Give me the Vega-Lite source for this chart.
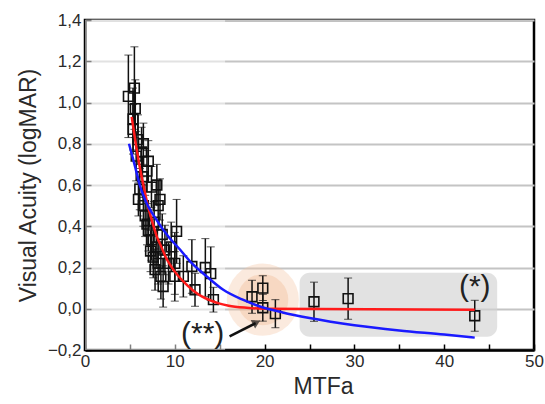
{
  "$schema": "https://vega.github.io/schema/vega-lite/v6.json",
  "autosize": "none",
  "padding": {"left": 85, "top": 20, "right": 11, "bottom": 54},
  "width": 449,
  "height": 330,
  "background": "white",
  "config": {
    "font": "Liberation Sans",
    "view": {"stroke": "black", "strokeWidth": 2.5},
    "axis": {
      "domainColor": "black",
      "domainWidth": 2.5,
      "tickColor": "black",
      "tickWidth": 1.5,
      "tickSize": -6,
      "labelColor": "#2a2a2a",
      "titleColor": "#2a2a2a",
      "labelFont": "Liberation Sans",
      "titleFont": "Liberation Sans",
      "labelFontSize": 17,
      "titleFontSize": 23,
      "titleFontWeight": "normal"
    }
  },
  "datasets": {
    "pts": [
      {"x": 4.83, "y": 1.03, "e": 0.2},
      {"x": 5.5, "y": 1.07, "e": 0.2},
      {"x": 5.35, "y": 0.92, "e": 0.15},
      {"x": 5.35, "y": 0.87, "e": 0.12},
      {"x": 5.6, "y": 0.97, "e": 0.14},
      {"x": 5.9, "y": 0.82, "e": 0.12},
      {"x": 5.7, "y": 0.74, "e": 0.12},
      {"x": 6.5, "y": 0.8, "e": 0.1},
      {"x": 6.3, "y": 0.76, "e": 0.12},
      {"x": 7.05, "y": 0.715, "e": 0.1},
      {"x": 6.9, "y": 0.667, "e": 0.1},
      {"x": 6.4, "y": 0.64, "e": 0.1},
      {"x": 7.4, "y": 0.59, "e": 0.1},
      {"x": 8.0, "y": 0.6, "e": 0.1},
      {"x": 8.35, "y": 0.53, "e": 0.1},
      {"x": 6.1, "y": 0.58, "e": 0.1},
      {"x": 5.95, "y": 0.53, "e": 0.08},
      {"x": 6.5, "y": 0.5, "e": 0.1},
      {"x": 6.7, "y": 0.45, "e": 0.1},
      {"x": 6.9, "y": 0.41, "e": 0.1},
      {"x": 7.05, "y": 0.38, "e": 0.1},
      {"x": 7.4, "y": 0.335, "e": 0.1},
      {"x": 7.7, "y": 0.42, "e": 0.1},
      {"x": 8.15, "y": 0.5, "e": 0.12},
      {"x": 8.0, "y": 0.3, "e": 0.1},
      {"x": 7.3, "y": 0.28, "e": 0.1},
      {"x": 7.6, "y": 0.25, "e": 0.1},
      {"x": 7.8, "y": 0.19, "e": 0.1},
      {"x": 8.15, "y": 0.22, "e": 0.1},
      {"x": 8.9, "y": 0.285, "e": 0.12},
      {"x": 8.6, "y": 0.36, "e": 0.1},
      {"x": 10.2, "y": 0.375, "e": 0.155},
      {"x": 10.0, "y": 0.22, "e": 0.15},
      {"x": 10.0, "y": 0.157, "e": 0.12},
      {"x": 8.45, "y": 0.157, "e": 0.11},
      {"x": 8.7, "y": 0.108, "e": 0.1},
      {"x": 9.3, "y": 0.22, "e": 0.1},
      {"x": 9.6, "y": 0.3, "e": 0.12},
      {"x": 10.95, "y": 0.157, "e": 0.1},
      {"x": 11.9, "y": 0.205, "e": 0.13},
      {"x": 12.25, "y": 0.092, "e": 0.08},
      {"x": 13.4, "y": 0.2, "e": 0.14},
      {"x": 14.0, "y": 0.17, "e": 0.13},
      {"x": 14.3, "y": 0.044, "e": 0.06},
      {"x": 18.6, "y": 0.058, "e": 0.08},
      {"x": 19.8, "y": 0.1, "e": 0.06},
      {"x": 19.8, "y": 0.005, "e": 0.065},
      {"x": 21.2, "y": -0.024, "e": 0.068},
      {"x": 25.5, "y": 0.034, "e": 0.095},
      {"x": 29.3, "y": 0.049, "e": 0.1},
      {"x": 43.4, "y": -0.034, "e": 0.075}
    ],
    "red": [
      {"x": 5.2, "y": 0.93},
      {"x": 6.0, "y": 0.71},
      {"x": 6.5, "y": 0.6},
      {"x": 7.0, "y": 0.5},
      {"x": 7.5, "y": 0.42},
      {"x": 8.0, "y": 0.35},
      {"x": 8.5, "y": 0.3},
      {"x": 9.0, "y": 0.25},
      {"x": 10.0, "y": 0.18},
      {"x": 11.0, "y": 0.13},
      {"x": 12.0, "y": 0.09},
      {"x": 13.0, "y": 0.06},
      {"x": 14.0, "y": 0.04},
      {"x": 15.0, "y": 0.025},
      {"x": 16.0, "y": 0.015},
      {"x": 18.0, "y": 0.005},
      {"x": 20.0, "y": 0.0},
      {"x": 43.4, "y": -0.005}
    ],
    "blue": [
      {"x": 4.9, "y": 0.8},
      {"x": 5.57, "y": 0.69},
      {"x": 6.1, "y": 0.6},
      {"x": 6.68, "y": 0.53},
      {"x": 7.98, "y": 0.43},
      {"x": 9.28, "y": 0.35},
      {"x": 10.6, "y": 0.286},
      {"x": 11.7, "y": 0.23},
      {"x": 13.55, "y": 0.157},
      {"x": 15.4, "y": 0.092},
      {"x": 17.5, "y": 0.045},
      {"x": 19.5, "y": 0.011},
      {"x": 22.0, "y": -0.018},
      {"x": 25.0, "y": -0.045},
      {"x": 30.0, "y": -0.08},
      {"x": 35.0, "y": -0.105},
      {"x": 40.0, "y": -0.125},
      {"x": 43.4, "y": -0.14}
    ]
  },
  "layer": [
    {
      "data": {"values": [{}]},
      "mark": {"type": "rect", "fill": "white", "opacity": 0.5},
      "encoding": {
        "x": {
          "datum": 0, "type": "quantitative", "title": "MTFa",
          "scale": {"domain": [0, 50], "nice": false},
          "axis": {
            "title": "MTFa",
            "values": [0, 5, 10, 15, 20, 25, 30, 35, 40, 45, 50],
            "labelExpr": "datum.value % 10 == 0 ? format(datum.value, 'd') : ''",
            "grid": false,
            "labelPadding": 9,
            "titleBaseline": "middle",
            "titleY": 36,
            "titleX": 238,
            "labelFlush": false
          }
        },
        "x2": {"datum": 15.6},
        "y": {
          "datum": -0.2, "type": "quantitative", "title": "Visual Acuity (logMAR)",
          "scale": {"domain": [-0.2, 1.4], "nice": false},
          "axis": {
            "title": "Visual Acuity (logMAR)",
            "values": [-0.2, -0.1, 0, 0.1, 0.2, 0.3, 0.4, 0.5, 0.6, 0.7, 0.8, 0.9, 1.0, 1.1, 1.2, 1.3, 1.4],
            "labelExpr": "abs(round(datum.value * 10)) % 2 == 0 ? replace(format(datum.value, '.1f'), '.', ',') : ''",
            "grid": true,
            "gridColor": "#c4c4c4",
            "gridWidth": 2,
            "labelPadding": 10,
            "titleBaseline": "middle",
            "titleX": -57,
            "titleY": 165,
            "labelFlush": false
          }
        },
        "y2": {"datum": 1.4}
      }
    },
    {
      "data": {"values": [{}]},
      "mark": {"type": "rect", "fill": "#d2d2d2", "opacity": 0.65, "cornerRadius": 10},
      "encoding": {
        "x": {"datum": 23.9, "type": "quantitative", "title": "MTFa"},
        "x2": {"datum": 45.9},
        "y": {"datum": -0.136, "type": "quantitative", "title": "Visual Acuity (logMAR)"},
        "y2": {"datum": 0.175}
      }
    },
    {
      "data": {"values": [{}]},
      "mark": {"type": "point", "shape": "circle", "filled": true, "fill": "#f3c4a0", "opacity": 0.35, "size": 5200, "strokeWidth": 0},
      "encoding": {
        "x": {"datum": 19.8, "type": "quantitative", "title": "MTFa"},
        "y": {"datum": 0.044, "type": "quantitative", "title": "Visual Acuity (logMAR)"}
      }
    },
    {
      "data": {"values": [{}]},
      "mark": {"type": "point", "shape": "circle", "filled": true, "fill": "#f0b890", "opacity": 0.35, "size": 2600, "strokeWidth": 0},
      "encoding": {
        "x": {"datum": 19.8, "type": "quantitative", "title": "MTFa"},
        "y": {"datum": 0.044, "type": "quantitative", "title": "Visual Acuity (logMAR)"}
      }
    },
    {
      "data": {"name": "pts"},
      "mark": {"type": "errorbar", "ticks": {"size": 8, "color": "#111", "strokeWidth": 1.5}, "rule": {"color": "#111", "strokeWidth": 1.5}},
      "encoding": {
        "x": {"field": "x", "type": "quantitative", "title": "MTFa"},
        "y": {"field": "y", "type": "quantitative", "title": "Visual Acuity (logMAR)"},
        "yError": {"field": "e"}
      }
    },
    {
      "data": {"name": "pts"},
      "mark": {"type": "point", "shape": "square", "filled": false, "stroke": "#111", "strokeWidth": 1.6, "size": 95, "opacity": 1},
      "encoding": {
        "x": {"field": "x", "type": "quantitative", "title": "MTFa"},
        "y": {"field": "y", "type": "quantitative", "title": "Visual Acuity (logMAR)"}
      }
    },
    {
      "data": {"name": "red"},
      "mark": {"type": "line", "color": "#ff1a1a", "strokeWidth": 2.5, "interpolate": "monotone"},
      "encoding": {
        "x": {"field": "x", "type": "quantitative", "title": "MTFa"},
        "y": {"field": "y", "type": "quantitative", "title": "Visual Acuity (logMAR)"}
      }
    },
    {
      "data": {"name": "blue"},
      "mark": {"type": "line", "color": "#1a1aff", "strokeWidth": 2.5, "interpolate": "monotone"},
      "encoding": {
        "x": {"field": "x", "type": "quantitative", "title": "MTFa"},
        "y": {"field": "y", "type": "quantitative", "title": "Visual Acuity (logMAR)"}
      }
    },
    {
      "data": {"values": [{}]},
      "mark": {"type": "rule", "color": "#111", "strokeWidth": 2.5},
      "encoding": {
        "x": {"datum": 16.1, "type": "quantitative", "title": "MTFa"},
        "y": {"datum": -0.134, "type": "quantitative", "title": "Visual Acuity (logMAR)"},
        "x2": {"datum": 19.0},
        "y2": {"datum": -0.07}
      }
    },
    {
      "data": {"values": [{}]},
      "mark": {"type": "point", "shape": "triangle-right", "filled": true, "fill": "#111", "size": 90, "angle": 332, "strokeWidth": 0},
      "encoding": {
        "x": {"datum": 19.1, "type": "quantitative", "title": "MTFa"},
        "y": {"datum": -0.066, "type": "quantitative", "title": "Visual Acuity (logMAR)"}
      }
    },
    {
      "data": {"values": [{"t": "(**)", "x": 13.1, "y": -0.12}, {"t": "(*)", "x": 43.4, "y": 0.105}]},
      "mark": {"type": "text", "fontSize": 30, "font": "Liberation Sans", "color": "#222", "baseline": "middle", "align": "center"},
      "encoding": {
        "x": {"field": "x", "type": "quantitative", "title": "MTFa"},
        "y": {"field": "y", "type": "quantitative", "title": "Visual Acuity (logMAR)"},
        "text": {"field": "t"}
      }
    }
  ]
}
